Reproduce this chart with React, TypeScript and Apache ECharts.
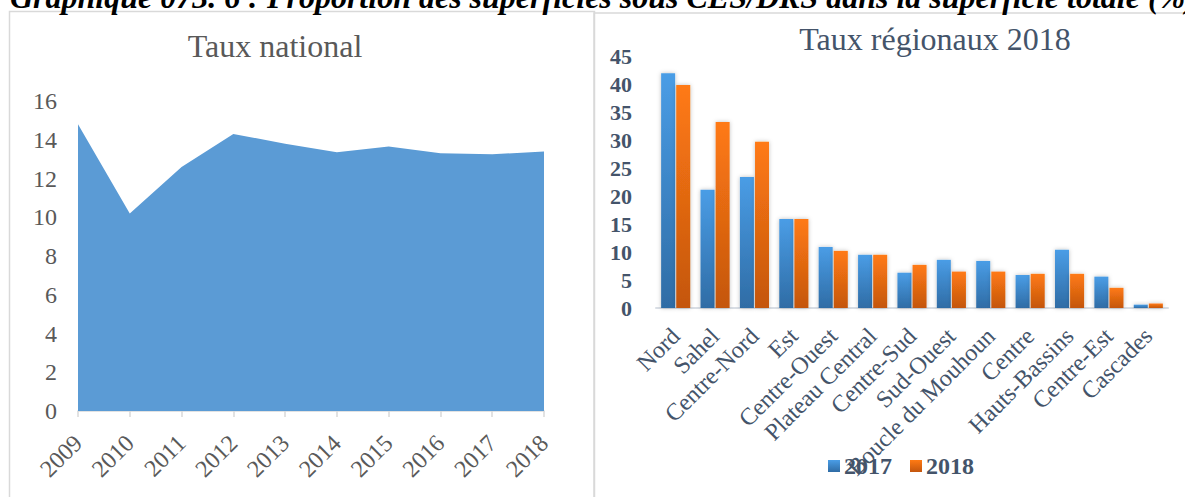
import React, { useEffect, useRef } from "react";
import * as echarts from "echarts";

const years = ["2009", "2010", "2011", "2012", "2013", "2014", "2015", "2016", "2017", "2018"];
const nationalRate = [14.8, 10.2, 12.6, 14.3, 13.8, 13.35, 13.65, 13.3, 13.25, 13.4];

const regions = [
  "Nord", "Sahel", "Centre-Nord", "Est", "Centre-Ouest", "Plateau Central", "Centre-Sud",
  "Sud-Ouest", "Boucle du Mouhoun", "Centre", "Hauts-Bassins", "Centre-Est", "Cascades",
];
const rate2017 = [41.9, 21.1, 23.4, 15.9, 10.9, 9.5, 6.3, 8.6, 8.4, 5.9, 10.4, 5.6, 0.6];
const rate2018 = [39.8, 33.2, 29.7, 15.9, 10.2, 9.5, 7.7, 6.5, 6.5, 6.1, 6.1, 3.6, 0.8];

const caption = "Graphique 073. 6 : Proportion des superficies sous CES/DRS dans la superficie totale (%)";

const SERIF = "'Liberation Serif', 'Times New Roman', serif";

export default function App() {
  const ref = useRef<HTMLDivElement>(null);
  useEffect(() => {
    if (!ref.current) return;
    const chart = echarts.init(ref.current, undefined, { renderer: "svg" });
    const blueGrad = new echarts.graphic.LinearGradient(0, 0, 0, 1, [
      { offset: 0, color: "#4A9DE6" },
      { offset: 1, color: "#2F6CA5" },
    ]);
    const orangeGrad = new echarts.graphic.LinearGradient(0, 0, 0, 1, [
      { offset: 0, color: "#FF7A14" },
      { offset: 1, color: "#C4560E" },
    ]);
    chart.setOption({
      animation: false,
      backgroundColor: "#ffffff",
      title: [
        {
          text: "Taux national",
          left: 270,
          top: 25,
          textAlign: "center",
          textStyle: { fontFamily: SERIF, fontSize: 32, fontWeight: "normal", color: "#595959" },
        },
        {
          text: "Taux régionaux 2018",
          left: 930,
          top: 18,
          textAlign: "center",
          textStyle: { fontFamily: SERIF, fontSize: 32, fontWeight: "normal", color: "#44546A" },
        },
      ],
      graphic: [
        {
          type: "rect",
          shape: { x: 9.5, y: 11.5, width: 585, height: 500 },
          style: { fill: "none", stroke: "#d9d9d9", lineWidth: 1.5 },
          z: -1,
        },
        {
          type: "rect",
          shape: { x: 594, y: 13, width: 620, height: 500 },
          style: { fill: "none", stroke: "#d9d9d9", lineWidth: 1.5 },
          z: -1,
        },
        {
          type: "text",
          x: 10,
          y: -3,
          style: {
            text: caption,
            font: `italic bold 32px ${SERIF}`,
            fill: "#000000",
            verticalAlign: "middle",
            align: "left",
          },
        },
      ],
      legend: {
        data: ["2017", "2018"],
        left: 823,
        top: 449,
        orient: "horizontal",
        itemWidth: 12,
        itemHeight: 12,
        itemGap: 18,
        icon: "rect",
        textStyle: { fontFamily: SERIF, fontSize: 24, fontWeight: "bold", color: "#44546A", padding: [0, 0, 0, -1] },
      },
      grid: [
        { left: 78, right: 641, top: 101, bottom: 86 },
        { left: 656, right: 17, top: 56, bottom: 189 },
      ],
      xAxis: [
        {
          type: "category",
          gridIndex: 0,
          data: years,
          boundaryGap: false,
          axisLine: { lineStyle: { color: "#d9d9d9", width: 1.5 } },
          axisTick: { show: true, length: 6, lineStyle: { color: "#d9d9d9", width: 1.5 } },
          axisLabel: {
            rotate: 45,
            margin: 28,
            fontFamily: SERIF,
            fontSize: 24,
            color: "#595959",
          },
        },
        {
          type: "category",
          gridIndex: 1,
          data: regions,
          axisLine: { lineStyle: { color: "#d9dee5", width: 2 } },
          axisTick: { show: false },
          axisLabel: {
            rotate: 45,
            margin: 24,
            interval: 0,
            fontFamily: SERIF,
            fontSize: 24,
            color: "#44546A",
          },
        },
      ],
      yAxis: [
        {
          type: "value",
          gridIndex: 0,
          min: 0,
          max: 16,
          interval: 2,
          splitLine: { show: false },
          axisLine: { show: false },
          axisTick: { show: false },
          axisLabel: { margin: 21, fontFamily: SERIF, fontSize: 24, color: "#595959" },
        },
        {
          type: "value",
          gridIndex: 1,
          min: 0,
          max: 45,
          interval: 5,
          splitLine: {
            show: true,
            lineStyle: { color: "#dfe4ea", width: 2.5, shadowBlur: 2, shadowColor: "rgba(0,0,0,0.08)" },
          },
          axisLine: { show: false },
          axisTick: { show: false },
          axisLabel: {
            margin: 24,
            fontFamily: SERIF,
            fontSize: 22,
            fontWeight: "bold",
            color: "#44546A",
          },
        },
      ],
      series: [
        {
          type: "line",
          name: "Taux national",
          xAxisIndex: 0,
          yAxisIndex: 0,
          data: nationalRate,
          symbol: "none",
          lineStyle: { width: 0, color: "#5B9BD5" },
          areaStyle: { color: "#5B9BD5", opacity: 1 },
          itemStyle: { color: "#5B9BD5" },
        },
        {
          type: "bar",
          name: "2017",
          xAxisIndex: 1,
          yAxisIndex: 1,
          data: rate2017,
          barWidth: 14,
          barGap: "8%",
          itemStyle: { color: blueGrad, shadowBlur: 4, shadowColor: "rgba(0,0,0,0.25)" },
        },
        {
          type: "bar",
          name: "2018",
          xAxisIndex: 1,
          yAxisIndex: 1,
          data: rate2018,
          barWidth: 14,
          barGap: "8%",
          itemStyle: { color: orangeGrad, shadowBlur: 4, shadowColor: "rgba(0,0,0,0.25)" },
        },
      ],
    });
    return () => chart.dispose();
  }, []);
  return (
    <div
      ref={ref}
      style={{ position: "fixed", left: 0, top: 0, width: 1185, height: 497, background: "#fff" }}
    />
  );
}
